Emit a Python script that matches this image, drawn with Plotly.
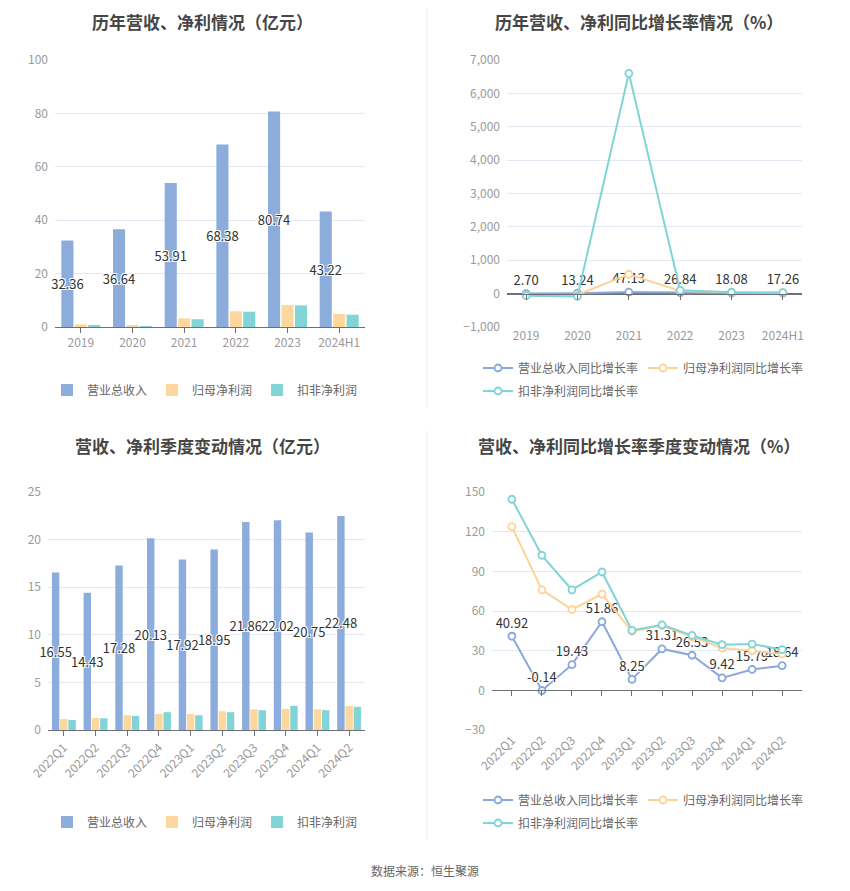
import plotly.graph_objects as go

W, H = 850, 891
OFF = 8  # page body margin offset

# ---------------- data ----------------
years = ['2019', '2020', '2021', '2022', '2023', '2024H1']
rev_annual = [32.36, 36.64, 53.91, 68.38, 80.74, 43.22]
np_annual = [0.95, 0.60, 3.25, 5.90, 8.25, 4.90]
dnp_annual = [0.70, 0.05, 2.90, 5.75, 8.10, 4.60]

rev_growth_annual = [2.70, 13.24, 47.13, 26.84, 18.08, 17.26]
np_growth_annual = [-45, -35, 580, 82, 40, 28]
dnp_growth_annual = [-60, -85, 6600, 100, 41, 30]

quarters = ['2022Q1', '2022Q2', '2022Q3', '2022Q4', '2023Q1', '2023Q2',
            '2023Q3', '2023Q4', '2024Q1', '2024Q2']
rev_q = [16.55, 14.43, 17.28, 20.13, 17.92, 18.95, 21.86, 22.02, 20.75, 22.48]
np_q = [1.16, 1.27, 1.55, 1.69, 1.69, 1.97, 2.18, 2.22, 2.18, 2.54]
dnp_q = [1.06, 1.23, 1.48, 1.87, 1.55, 1.87, 2.08, 2.54, 2.08, 2.43]

rev_growth_q = [40.92, -0.14, 19.43, 51.86, 8.25, 31.31, 26.53, 9.42, 15.79, 18.64]
np_growth_q = [123.8, 76.0, 61.0, 72.8, 44.5, 49.0, 40.5, 32.0, 30.0, 27.5]
dnp_growth_q = [144.5, 102.0, 76.0, 89.5, 45.3, 49.5, 41.5, 34.5, 35.0, 30.8]

names_bar = ['营业总收入', '归母净利润', '扣非净利润']
names_line = ['营业总收入同比增长率', '归母净利润同比增长率', '扣非净利润同比增长率']
titles = ['历年营收、净利情况（亿元）', '历年营收、净利同比增长率情况（%）',
          '营收、净利季度变动情况（亿元）', '营收、净利同比增长率季度变动情况（%）']

# ---------------- style ----------------
FONT = 'Noto Sans CJK SC'
C_BAR = ['#8cacdb', '#fdd89d', '#83d4d6']
C_LINE = ['#8aa8dc', '#fdd395', '#80d4d6']
GRID = '#e3e8f3'
AXIS = '#6e7079'
TICK = '#9a9a9a'
SHADOW = '1px 1px 0 #fff, -1px -1px 0 #fff, 1px -1px 0 #fff, -1px 1px 0 #fff'


def fx(px):
    return (px - OFF) / W


def fy(py):
    return (H - (py - OFF)) / H


def px_x(a, b):
    return [fx(a), fx(b)]


def px_y(top, bottom):
    return [fy(bottom), fy(top)]


fig = go.Figure()


def add_bars(xs, series, xa, ya, legend):
    for i, (vals, name) in enumerate(zip(series, names_bar)):
        kw = {}
        if i == 0:
            kw = dict(texttemplate='%{y:.2f}', textposition='inside',
                      insidetextanchor='middle', textangle=0, constraintext='none',
                      textfont=dict(color='#333', size=13, family=FONT, shadow=SHADOW),
                      insidetextfont=dict(color='#333', size=13, family=FONT, shadow=SHADOW))
        fig.add_trace(go.Bar(x=xs, y=vals, name=name, marker=dict(color=C_BAR[i], line=dict(width=0)),
                             xaxis=xa, yaxis=ya, legend=legend, cliponaxis=False, **kw))


def add_lines(xs, series, xa, ya, legends, tick_axis):
    # helper (draws nothing) that puts zero-line tick marks on the category positions
    fig.add_trace(go.Scatter(x=xs, y=series[0], mode='none', xaxis=tick_axis, yaxis=ya,
                             showlegend=False, hoverinfo='skip'))
    for i, (vals, name) in enumerate(zip(series, names_line)):
        kw = {}
        mode = 'lines+markers'
        if i == 0:
            mode = 'lines+markers+text'
            kw = dict(texttemplate='%{y:.2f}', textposition='top center',
                      textfont=dict(color='#333', size=13, family=FONT, shadow=SHADOW))
        fig.add_trace(go.Scatter(x=xs, y=vals, name=name, mode=mode,
                                 line=dict(color=C_LINE[i], width=2),
                                 marker=dict(symbol='circle', size=7, color='#fff',
                                             line=dict(color=C_LINE[i], width=1.8)),
                                 xaxis=xa, yaxis=ya, legend=legends[i], cliponaxis=False, **kw))


add_bars(years, [rev_annual, np_annual, dnp_annual], 'x', 'y', 'legend')
add_lines(years, [rev_growth_annual, np_growth_annual, dnp_growth_annual], 'x2', 'y2',
          ['legend2', 'legend2', 'legend3'], 'x5')
add_bars(quarters, [rev_q, np_q, dnp_q], 'x3', 'y3', 'legend4')
add_lines(quarters, [rev_growth_q, np_growth_q, dnp_growth_q], 'x4', 'y4',
          ['legend5', 'legend5', 'legend6'], 'x6')

tickfont = dict(family=FONT, size=12, color=TICK)

dom_tl_x, dom_tr_x = px_x(55, 365), px_x(507, 802)
dom_bl_x, dom_br_x = px_x(48, 365), px_x(492, 802)
dom_top_y, dom_bot_y = px_y(60, 327), px_y(492, 730)

rng_y2 = [-1000, 7000]
rng_y4 = [-30, 150]


def zero_pos(dom, rng):
    return dom[0] + (0 - rng[0]) / (rng[1] - rng[0]) * (dom[1] - dom[0])


def xbar(domain, anchor, angle=0):
    return dict(domain=domain, anchor=anchor, type='category', showline=True, linecolor=AXIS,
                linewidth=1, ticks='outside', ticklen=5, tickcolor=AXIS, tickfont=tickfont,
                showgrid=False, tickangle=angle, fixedrange=True, automargin=False)


def xline(domain, anchor, angle=0):
    return dict(domain=domain, anchor=anchor, type='category', showline=False, ticks='',
                tickfont=tickfont, showgrid=False, tickangle=angle, fixedrange=True,
                automargin=False)


def xticks_at_zero(over, pos):
    return dict(overlaying=over, matches=over, anchor='free', position=pos, type='category',
                showline=True, linecolor=AXIS, linewidth=1, ticks='outside', ticklen=5,
                tickcolor=AXIS, showticklabels=False, showgrid=False, zeroline=False,
                fixedrange=True, automargin=False)


def yax(domain, anchor, rng, dtick, zeroline=False, fmt=''):
    return dict(domain=domain, anchor=anchor, range=rng, dtick=dtick, tick0=0, showline=False,
                gridcolor=GRID, gridwidth=1, tickfont=tickfont, ticks='', zeroline=zeroline,
                zerolinecolor=AXIS, zerolinewidth=1, tickformat=fmt, fixedrange=True,
                ticklabelstandoff=6, automargin=False)


legfont = dict(family=FONT, size=12, color='#666')


def leg(x, y, xanchor='left'):
    return dict(x=x, y=y, xanchor=xanchor, yanchor='middle', orientation='h', font=legfont,
                bgcolor='rgba(0,0,0,0)', itemwidth=30, tracegroupgap=0)


fig.update_layout(
    width=W, height=H, autosize=False,
    margin=dict(l=0, r=0, t=0, b=0, pad=0, autoexpand=False),
    paper_bgcolor='#fff', plot_bgcolor='#fff',
    font=dict(family=FONT),
    barmode='group', bargap=0.22, bargroupgap=0.1,
    showlegend=True,
    xaxis=xbar(dom_tl_x, 'y'),
    yaxis=yax(dom_top_y, 'x', [0, 100], 20),
    xaxis2=xline(dom_tr_x, 'y2'),
    yaxis2=yax(dom_top_y, 'x2', rng_y2, 1000, zeroline=True, fmt=','),
    xaxis3=xbar(dom_bl_x, 'y3', -45),
    yaxis3=yax(dom_bot_y, 'x3', [0, 25], 5),
    xaxis4=xline(dom_br_x, 'y4', -45),
    yaxis4=yax(dom_bot_y, 'x4', rng_y4, 30, zeroline=True),
    xaxis5=xticks_at_zero('x2', zero_pos(dom_top_y, rng_y2)),
    xaxis6=xticks_at_zero('x4', zero_pos(dom_bot_y, rng_y4)),
    legend=leg(fx(205), fy(390), 'center'),
    legend2=leg(fx(478), fy(368)),
    legend3=leg(fx(478), fy(391)),
    legend4=leg(fx(205), fy(822), 'center'),
    legend5=leg(fx(478), fy(800)),
    legend6=leg(fx(478), fy(823)),
)

# titles (top row anchored at the very top of the figure so nothing is clipped)
title_pos = [(202, None), (639, None), (202, 445), (639, 445)]
for (cx, cy), t in zip(title_pos, titles):
    if cy is None:
        yv, ya = 1.0, 'top'
    else:
        yv, ya = fy(cy), 'middle'
    fig.add_annotation(x=fx(cx), y=yv, xref='paper', yref='paper', text='<b>' + t + '</b>',
                       showarrow=False, xanchor='center', yanchor=ya, borderpad=0,
                       font=dict(family=FONT, size=17, color='#464646'))

fig.add_annotation(x=fx(425), y=fy(870), xref='paper', yref='paper', text='数据来源：恒生聚源',
                   showarrow=False, xanchor='center', yanchor='middle',
                   font=dict(family=FONT, size=12, color='#666'))

# dividers
for y0, y1 in [(0, 407), (431, 840)]:
    fig.add_shape(type='line', xref='paper', yref='paper', x0=fx(427), x1=fx(427),
                  y0=fy(y1), y1=fy(max(y0, OFF)), line=dict(color='#ececec', width=1))

fig.write_html('out.html')
